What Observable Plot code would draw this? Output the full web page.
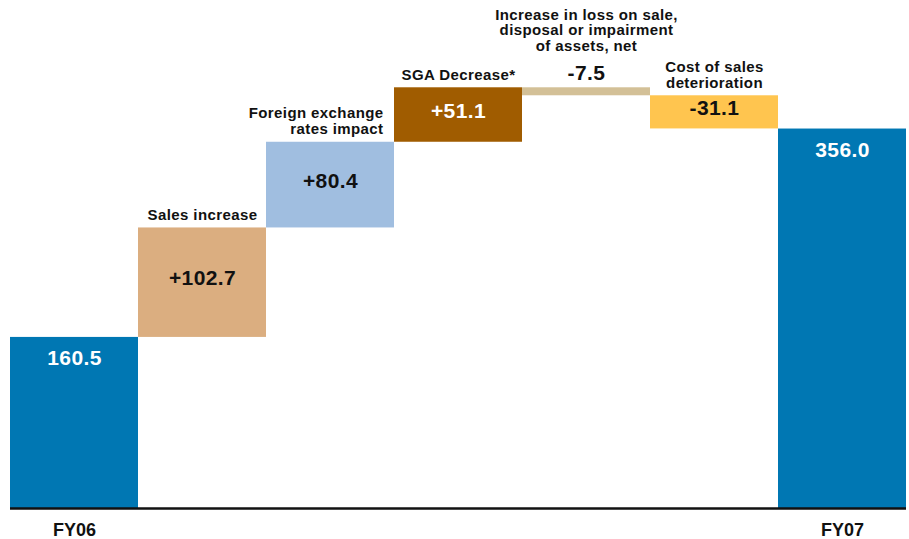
<!DOCTYPE html>
<html>
<head>
<meta charset="utf-8">
<script src="https://cdn.jsdelivr.net/npm/d3@7"></script>
<script src="https://cdn.jsdelivr.net/npm/@observablehq/plot@0.6"></script>
<style>
  html, body { margin: 0; padding: 0; background: #fff; }
  svg { display: block; }
</style>
</head>
<body>
<div id="chart"></div>
<script>
const keys = ["FY06", "Sales", "FX", "SGA", "Loss", "COS", "FY07"];
const labels = [
  "FY06",
  "Sales increase",
  "Foreign exchange\nrates impact",
  "SGA Decrease*",
  "Increase in loss on sale,\ndisposal or impairment\nof assets, net",
  "Cost of sales\ndeterioration",
  "FY07"
];
const values = [160.5, 102.7, 80.4, 51.1, -7.5, -31.1, 356.0];
const kinds = ["total", "delta", "delta", "delta", "delta", "delta", "total"];
const valueTexts = ["160.5", "+102.7", "+80.4", "+51.1", "-7.5", "-31.1", "356.0"];
const colors = ["#0077B3", "#DBAE80", "#A0BEE0", "#A05C00", "#D3C097", "#FFC54F", "#0077B3"];

// build waterfall rows
let run = 0;
const rows = keys.map((k, i) => {
  let y1, y2;
  if (kinds[i] === "total") { y1 = 0; y2 = values[i]; run = values[i]; }
  else { y1 = run; y2 = run + values[i]; run = y2; }
  const top = Math.max(y1, y2);
  return {key: k, label: labels[i], value: values[i], text: valueTexts[i], kind: kinds[i],
          color: colors[i], y1, y2, top, mid: (y1 + y2) / 2,
          dark: d3.hsl(colors[i]).l < 0.45};
});

const font = "'Liberation Sans', Arial, Helvetica, sans-serif";
const deltas = rows.filter(d => d.kind === "delta");
const small = d => Math.abs(d.value) < 10;

const chart = Plot.plot({
  width: 909,
  height: 539,
  marginLeft: 10,
  marginRight: 3,
  marginTop: 39,
  marginBottom: 31,
  style: {fontFamily: font, background: "#fff", overflow: "visible"},
  x: {domain: keys, padding: 0, label: null},
  y: {domain: [0, 440], axis: null},
  marks: [
    Plot.barY(rows, {x: "key", y1: "y1", y2: "y2", fill: "color"}),
    Plot.ruleY([0], {stroke: "#111", strokeWidth: 2.5}),
    Plot.axisX({
      tickSize: 0, tickPadding: 15,
      tickFormat: k => (k === "FY06" || k === "FY07") ? k : "",
      fontSize: 18, fontWeight: "bold", fill: "#111", label: null
    }),
    // value labels: totals near top
    Plot.text(rows.filter(d => d.kind === "total"), {
      x: "key", y: "top", text: "text", dy: 21, fontSize: 21, fontWeight: "bold",
      fill: d => d.dark ? "#fff" : "#111", lineAnchor: "middle"
    }),
    // value labels: deltas inside bars
    Plot.text(deltas.filter(d => !small(d)), {
      x: "key", y: "mid", text: "text", dy: -4, fontSize: 21, fontWeight: "bold",
      fill: d => d.dark ? "#fff" : "#111", lineAnchor: "middle"
    }),
    // value labels: thin deltas above bars
    Plot.text(deltas.filter(small), {
      x: "key", y: "top", text: "text", dy: -15, fontSize: 21, fontWeight: "bold",
      fill: "#111", lineAnchor: "middle"
    }),
    // annotation labels centered above bars
    Plot.text(deltas.filter(d => d.key !== "FX" && !small(d)), {
      x: "key", y: "top", text: "label", dy: -8,
      fontSize: 15, fontWeight: "bold", fill: "#111", lineAnchor: "bottom", lineHeight: 1.08
    }),
    // annotation label above the value of the thin bar
    Plot.text(deltas.filter(small), {
      x: "key", y: "top", text: "label", dy: -37,
      fontSize: 15, fontWeight: "bold", fill: "#111", lineAnchor: "bottom", lineHeight: 1.02
    }),
    // FX label right-aligned
    Plot.text(deltas.filter(d => d.key === "FX"), {
      x: "key", y: "top", text: "label", dy: -8, dx: 53, textAnchor: "end",
      fontSize: 15, fontWeight: "bold", fill: "#111", lineAnchor: "bottom", lineHeight: 1.08
    })
  ]
});
chart.querySelectorAll("g[aria-label='text'] text").forEach(t => { t.style.letterSpacing = "0.4px"; });
document.getElementById("chart").append(chart);
</script>
</body>
</html>
